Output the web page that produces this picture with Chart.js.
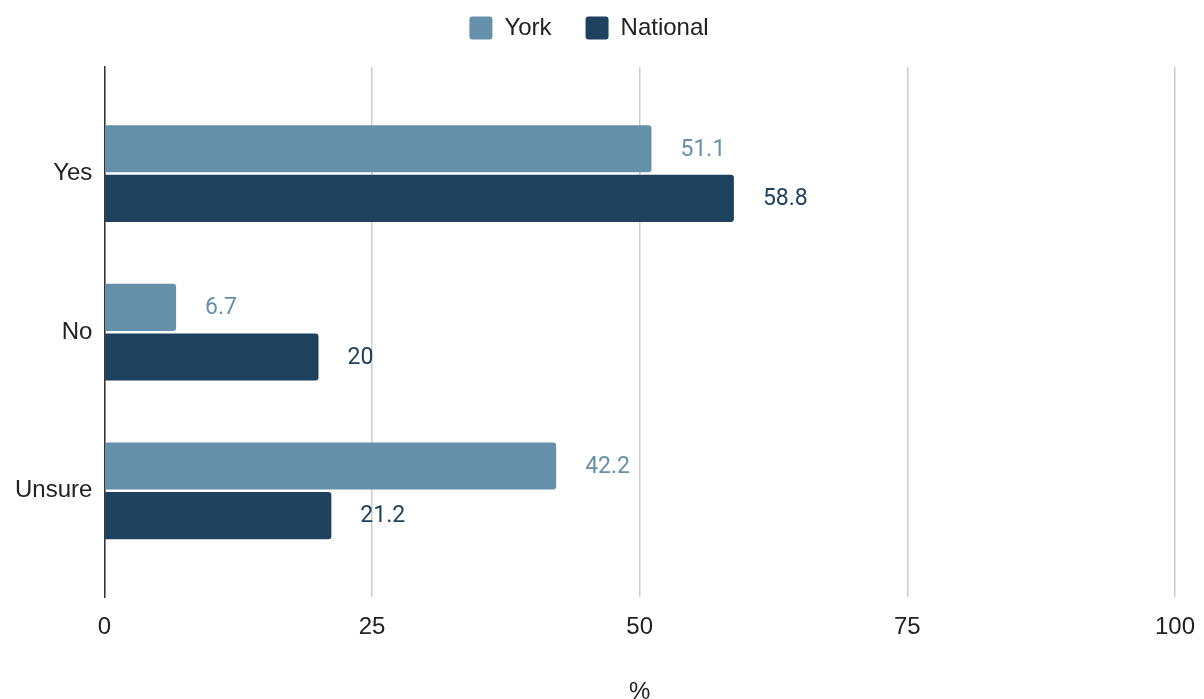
<!DOCTYPE html>
<html>
<head>
<meta charset="utf-8">
<script src="https://cdn.jsdelivr.net/npm/chart.js@4"></script>
<style>
  html, body { margin: 0; padding: 0; background: #fff; }
  #wrap { width: 1204px; height: 699px; }
</style>
</head>
<body>
<div id="wrap"><canvas id="surveyChart"></canvas></div>
<script>
const categories = ['Yes', 'No', 'Unsure'];
const yorkValues = [51.1, 6.7, 42.2];
const nationalValues = [58.8, 20, 21.2];
const xTicks = [0, 25, 50, 75, 100];

const yorkColor = '#6490aa';
const nationalColor = '#1e425e';
const axisFont = { family: "'Liberation Sans', Arial, sans-serif", size: 24 };

// bars on a numeric index axis so the category spacing can be padded like the original
function toPoints(values) {
    return values.map((v, i) => ({ x: v, y: i }));
}

// value labels to the right of each bar
const valueLabels = {
    id: 'valueLabels',
    afterDatasetsDraw(chart) {
        const ctx = chart.ctx;
        ctx.save();
        ctx.font = '23px Roboto';
        ctx.textAlign = 'left';
        ctx.textBaseline = 'middle';
        chart.data.datasets.forEach((ds, di) => {
            const meta = chart.getDatasetMeta(di);
            ctx.fillStyle = ds.backgroundColor;
            meta.data.forEach((bar, i) => {
                ctx.fillText(String(ds.data[i].x), bar.x + 29, bar.y + 1);
            });
        });
        ctx.restore();
    }
};

// a bit more room between the legend and the plot
const legendGap = {
    id: 'legendGap',
    beforeUpdate(chart) {
        const legend = chart.legend;
        if (legend && !legend._gapPatched) {
            const fit = legend.fit;
            legend.fit = function () {
                fit.call(this);
                this.height += 17;
            };
            legend._gapPatched = true;
        }
    }
};

const ctx = document.getElementById('surveyChart').getContext('2d');

new Chart(ctx, {
    type: 'bar',
    data: {
        datasets: [
            {
                label: 'York',
                data: toPoints(yorkValues),
                backgroundColor: yorkColor,
                borderRadius: 3,
                borderSkipped: 'start',
                categoryPercentage: 0.625,
                barPercentage: 0.95
            },
            {
                label: 'National',
                data: toPoints(nationalValues),
                backgroundColor: nationalColor,
                borderRadius: 3,
                borderSkipped: 'start',
                categoryPercentage: 0.625,
                barPercentage: 0.95
            }
        ]
    },
    options: {
        indexAxis: 'y',
        responsive: true,
        maintainAspectRatio: false,
        animation: false,
        layout: { padding: { left: 3, right: 29, top: -18, bottom: -8 } },
        plugins: {
            legend: {
                position: 'top',
                labels: {
                    font: axisFont,
                    color: '#222',
                    boxWidth: 23,
                    boxHeight: 23,
                    useBorderRadius: true,
                    borderRadius: 3,
                    padding: 34
                }
            },
            tooltip: { enabled: false }
        },
        scales: {
            x: {
                type: 'linear',
                min: 0,
                max: 100,
                afterBuildTicks(scale) {
                    scale.ticks = xTicks.map(v => ({ value: v }));
                },
                afterFit(scale) {
                    scale.paddingLeft = 0;
                    scale.paddingRight = 0;
                },
                grid: {
                    color: '#cccccc',
                    lineWidth: 1.5,
                    drawTicks: false
                },
                border: { display: false },
                ticks: {
                    font: axisFont,
                    color: '#222',
                    padding: 16
                },
                title: {
                    display: true,
                    text: '%',
                    font: axisFont,
                    color: '#222',
                    padding: { top: 20, bottom: 0 }
                }
            },
            y: {
                type: 'linear',
                offset: false,
                reverse: true,
                min: -0.672,
                max: 2.672,
                afterBuildTicks(scale) {
                    scale.ticks = categories.map((c, i) => ({ value: i }));
                },
                grid: { display: false, drawTicks: false },
                border: { display: true, color: '#333', width: 1.5 },
                ticks: {
                    font: axisFont,
                    color: '#222',
                    padding: 12,
                    callback: (v) => categories[v]
                }
            }
        }
    },
    plugins: [valueLabels, legendGap]
});
</script>
</body>
</html>
